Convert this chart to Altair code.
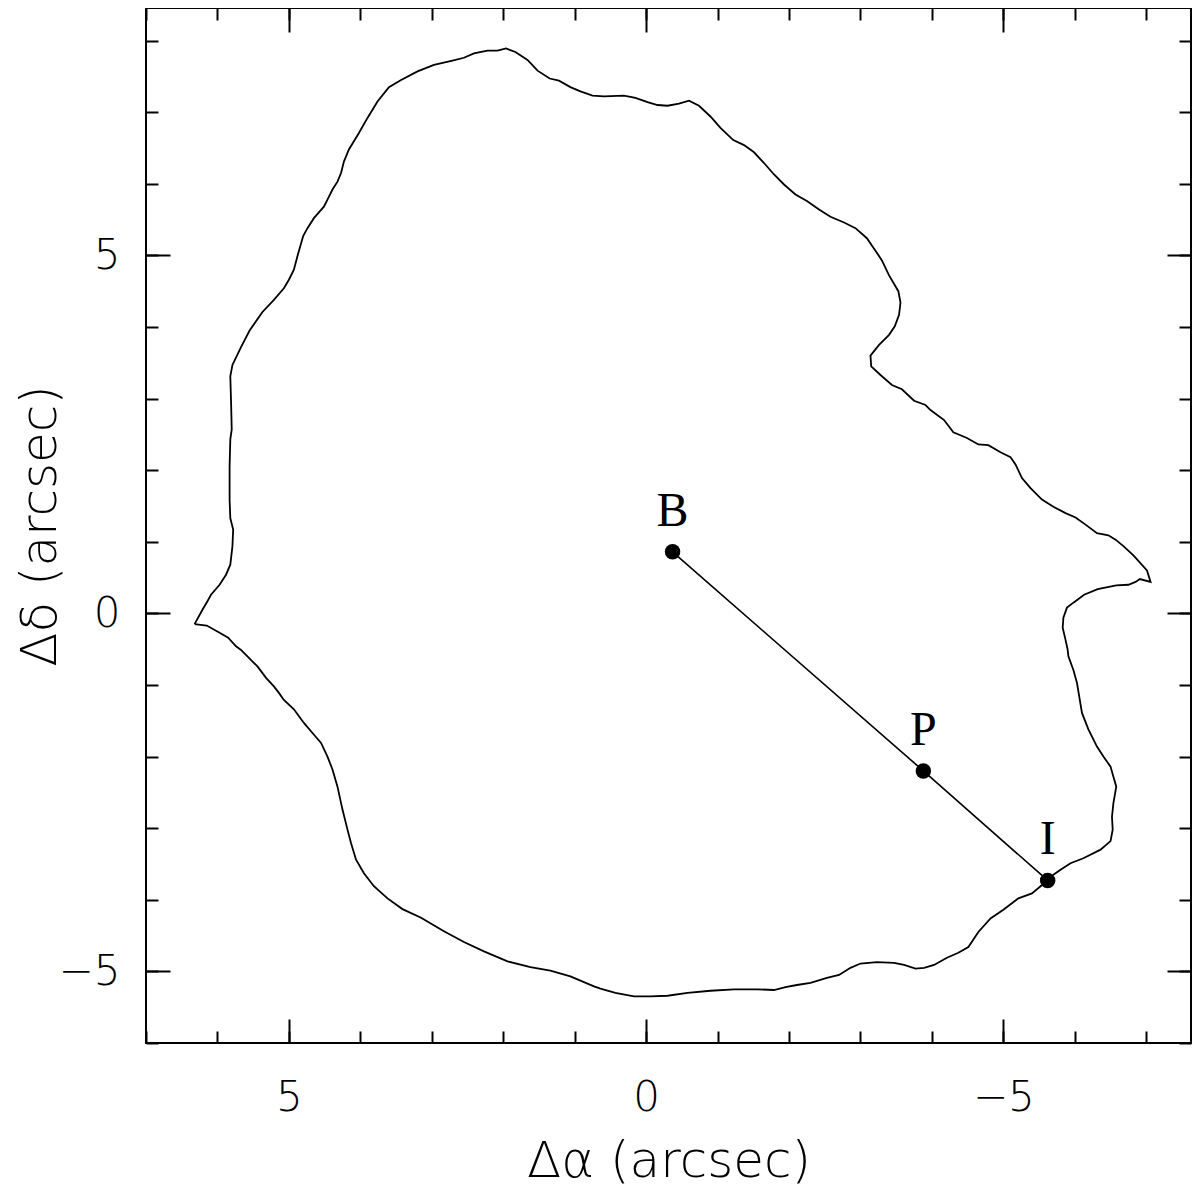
import altair as alt
import pandas as pd

# Contour outline (arcsec), traced around the source
contour_x = [6.32, 6.21, 6.14, 6.09, 5.97, 5.88, 5.82, 5.79, 5.78, 5.82, 5.83, 5.83, 5.82, 5.80, 5.81,
             5.82, 5.79, 5.67, 5.55, 5.37, 5.21, 5.07, 5.00, 4.93, 4.88, 4.80, 4.74, 4.65, 4.51, 4.46,
             4.39, 4.32, 4.27, 4.23, 4.16, 4.02, 3.90, 3.76, 3.60, 3.43, 3.20, 2.97, 2.71, 2.55, 2.41,
             2.22, 2.08, 1.96, 1.83, 1.66, 1.52, 1.35, 1.22, 1.06, 0.92, 0.75, 0.59, 0.31, 0.15, -0.02,
             -0.16, -0.30, -0.46, -0.60, -0.74, -0.90, -1.04, -1.22, -1.37, -1.51, -1.65, -1.79, -1.93,
             -2.09, -2.25, -2.42, -2.58, -2.77, -2.93, -3.09, -3.20, -3.30, -3.40, -3.53, -3.56, -3.54,
             -3.48, -3.40, -3.26, -3.14, -3.15, -3.28, -3.44, -3.58, -3.75, -3.91, -3.98, -4.17, -4.30,
             -4.49, -4.65, -4.79, -4.96, -5.10, -5.17, -5.26, -5.38, -5.54, -5.70, -5.87, -6.01, -6.15,
             -6.31, -6.47, -6.57, -6.68, -6.82, -7.01, -7.06, -6.91, -6.85, -6.75, -6.58, -6.32, -6.13,
             -5.98, -5.89, -5.84, -5.83, -5.87, -5.90, -5.91, -5.98, -6.03, -6.07, -6.10, -6.19, -6.31,
             -6.40, -6.50, -6.54, -6.58, -6.54, -6.52, -6.53, -6.50, -6.36, -6.12, -5.94, -5.80, -5.70,
             -5.62, -5.52, -5.40, -5.21, -5.00, -4.82, -4.65, -4.51, -4.37, -4.21, -4.03, -3.89, -3.77,
             -3.61, -3.47, -3.23, -3.00, -2.86, -2.70, -2.53, -2.30, -2.11, -1.95, -1.79, -1.56, -1.23,
             -0.90, -0.58, -0.30, -0.06, 0.17, 0.43, 0.64, 0.73, 1.06, 1.34, 1.62, 1.94, 2.27, 2.55,
             2.83, 3.15, 3.41, 3.62, 3.81, 3.95, 4.06, 4.13, 4.18, 4.25, 4.32, 4.39, 4.46, 4.55, 4.67,
             4.79, 4.93, 5.07, 5.14, 5.21, 5.32, 5.44, 5.56, 5.67, 5.74, 5.85, 5.97, 6.15, 6.32]
contour_y = [-0.15, 0.05, 0.17, 0.26, 0.40, 0.54, 0.68, 0.94, 1.17, 1.33, 1.59, 2.05, 2.43, 2.57, 2.98,
             3.31, 3.47, 3.72, 3.95, 4.21, 4.38, 4.54, 4.66, 4.80, 4.99, 5.27, 5.38, 5.52, 5.68, 5.78,
             5.92, 6.03, 6.15, 6.31, 6.48, 6.71, 6.92, 7.15, 7.35, 7.45, 7.57, 7.66, 7.72, 7.76, 7.82,
             7.86, 7.86, 7.89, 7.84, 7.73, 7.58, 7.47, 7.44, 7.35, 7.29, 7.23, 7.22, 7.23, 7.20, 7.14,
             7.10, 7.09, 7.12, 7.16, 7.09, 6.94, 6.78, 6.61, 6.54, 6.44, 6.29, 6.13, 5.99,
             5.85, 5.76, 5.64, 5.54, 5.46, 5.38, 5.24, 5.08, 4.93, 4.72, 4.50, 4.34, 4.17,
             4.01, 3.89, 3.75, 3.60, 3.45, 3.33, 3.19, 3.13, 2.97, 2.91, 2.84, 2.70, 2.53,
             2.45, 2.36, 2.35, 2.25, 2.18, 2.08, 1.89, 1.75, 1.59, 1.49, 1.40, 1.34, 1.24,
             1.12, 1.09, 1.03, 0.94, 0.81, 0.60, 0.44, 0.48, 0.44, 0.40, 0.39, 0.34, 0.26,
             0.15, 0.08, -0.06, -0.20, -0.37, -0.51, -0.60, -0.79, -0.97, -1.21, -1.39, -1.62, -1.86,
             -2.00, -2.14, -2.28, -2.42, -2.65, -2.84, -3.02, -3.18, -3.30, -3.42, -3.49, -3.58, -3.65,
             -3.73, -3.81, -3.91, -3.98, -4.14, -4.26, -4.45, -4.66, -4.74, -4.81, -4.91, -4.95, -4.96,
             -4.91, -4.88, -4.87, -4.89, -4.95, -5.05, -5.09, -5.16, -5.19, -5.22, -5.26, -5.25, -5.25,
             -5.27, -5.30, -5.34, -5.35, -5.35, -5.30, -5.24, -5.21, -5.07, -4.99, -4.94, -4.86, -4.72, -4.59,
             -4.44, -4.25, -4.13, -3.98, -3.81, -3.63, -3.44, -3.21, -3.02, -2.74, -2.42, -2.18, -2.00, -1.81, -1.67,
             -1.53, -1.34, -1.21, -1.11, -1.02, -0.90, -0.74, -0.62, -0.51, -0.46, -0.34, -0.27, -0.17, -0.15]

# Marked positions
point_names = ["B", "P", "I"]
point_x = [-0.37, -3.88, -5.62]
point_y = [0.86, -2.20, -3.73]

# Tick values
x_major = [5, 0, -5]
x_minor = list(range(-7, 8))
y_major = [5, 0, -5]
y_minor = list(range(-6, 9))

contour = pd.DataFrame({"dra": contour_x, "ddec": contour_y, "i": list(range(len(contour_x)))})
pts = pd.DataFrame({"name": point_names, "dra": point_x, "ddec": point_y, "i": list(range(len(point_names)))})

xs = alt.Scale(domain=[7, -7.626], nice=False, zero=False)
ys = alt.Scale(domain=[-6, 8.455], nice=False, zero=False)

LABEL_FONT = "DejaVu Sans"


def ax(orient, values, size, labels=False, title=None, label_pad=0, title_pad=0):
    kw = dict(orient=orient, values=values, tickSize=size, offset=-size, domain=False, grid=False,
              tickColor="black", tickWidth=2, labels=labels, title=title)
    if labels:
        kw.update(labelFont=LABEL_FONT, labelFontSize=42, labelFontWeight=200, labelColor="black",
                  labelPadding=label_pad, labelFlush=False, labelOverlap=False, format="d")
    if title:
        kw.update(titleFont=LABEL_FONT, titleFontSize=50, titleFontWeight=200, titleColor="black",
                  titlePadding=title_pad)
    return alt.Axis(**kw)


line = alt.Chart(contour).mark_line(color="black", strokeWidth=1.8).encode(
    x=alt.X("dra:Q", scale=xs, axis=ax("bottom", x_major, 24, True, "Δα (arcsec)", 34, 18)),
    y=alt.Y("ddec:Q", scale=ys, axis=ax("left", y_major, 24, True, "Δδ (arcsec)", 26, -7)),
    order="i:Q",
)

seg = alt.Chart(pts).mark_line(color="black", strokeWidth=1.6).encode(
    x=alt.X("dra:Q", scale=xs, axis=ax("bottom", x_minor, 12)),
    y=alt.Y("ddec:Q", scale=ys, axis=ax("left", y_minor, 12)),
    order="i:Q",
)

dots = alt.Chart(pts).mark_point(filled=True, color="black", size=240, opacity=1).encode(
    x=alt.X("dra:Q", scale=xs, axis=ax("top", x_major, 24)),
    y=alt.Y("ddec:Q", scale=ys, axis=ax("right", y_major, 24)),
)

labels = alt.Chart(pts).mark_text(font="Liberation Serif", fontSize=48, dy=-26, baseline="alphabetic",
                                  align="center", color="black").encode(
    x=alt.X("dra:Q", scale=xs, axis=ax("top", x_minor, 12)),
    y=alt.Y("ddec:Q", scale=ys, axis=ax("right", y_minor, 12)),
    text="name:N",
)

chart = alt.layer(line, seg, dots, labels).resolve_axis(x="independent", y="independent").properties(
    width=1045, height=1035,
    autosize=alt.AutoSizeParams(type="none"),
    padding={"left": 138, "top": 0, "right": 1, "bottom": 145},
).configure_view(stroke="black", strokeWidth=2)

chart.save("out.html", embed_options={"renderer": "svg", "actions": False})
